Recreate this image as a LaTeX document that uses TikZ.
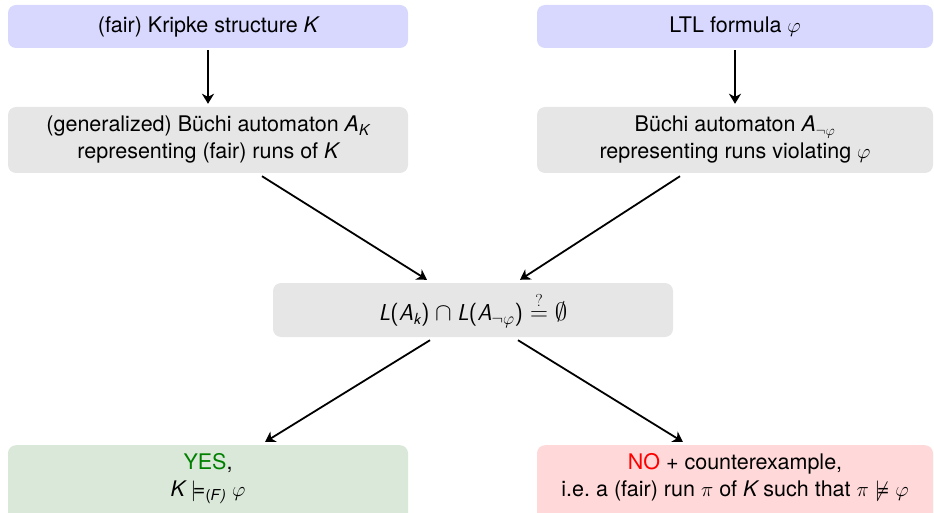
\documentclass[tikz,border=0pt]{standalone}
\usepackage{amsmath,amssymb}
\usepackage{fontspec}
\setmainfont{TeX Gyre Heros}
\usetikzlibrary{arrows.meta}
% italic letter in the current text font, usable in math and subscripts
\newcommand\iv[1]{\text{\itshape #1}}
\definecolor{inbox}{RGB}{216,216,255}
\definecolor{stepgray}{RGB}{230,230,230}
\definecolor{yesbox}{RGB}{217,232,217}
\definecolor{nobox}{RGB}{255,217,217}
\definecolor{yesgreen}{RGB}{0,128,0}
\tikzset{
  x=1pt, y=-1pt,
  box/.style={rounded corners=8pt, inner sep=0pt, align=center,
    font=\fontsize{21.5}{27}\selectfont},
  arr/.style={line width=1.8pt, -{Stealth[length=10pt,width=12pt,inset=3pt]}},
}
\begin{document}
\begin{tikzpicture}
\useasboundingbox (0,0) rectangle (934,513);
\clip (0,0) rectangle (934,513);
% inputs
\node[box, fill=inbox, minimum width=400pt, minimum height=43pt] (kripke) at (208,26.5)
  {(fair) Kripke structure $\iv{K}$};
\node[box, fill=inbox, minimum width=396pt, minimum height=43pt] (ltl) at (735,26.5)
  {LTL formula $\varphi$};
% automata
\node[box, fill=stepgray, minimum width=400pt, minimum height=66pt] (bk) at (208,140)
  {(generalized) Büchi automaton $\iv{A}_{\iv{K}}$\\ representing (fair) runs of $\iv{K}$};
\node[box, fill=stepgray, minimum width=396pt, minimum height=66pt] (bphi) at (735,140)
  {Büchi automaton $\iv{A}_{\neg\varphi}$\\ representing runs violating $\varphi$};
% emptiness check
\node[box, fill=stepgray, minimum width=400pt, minimum height=54pt,
  font=\sffamily\fontsize{23}{27}\selectfont] (check) at (473,310)
  {$\iv{L}\text{(}\iv{A}_{\iv{k}}\text{)}\cap\iv{L}\text{(}\iv{A}_{\neg\varphi}\text{)}
   \stackrel{?}{=}\emptyset$};
% results
\node[box, fill=yesbox, minimum width=400pt, text depth=40pt, inner ysep=8pt,
  anchor=north] (yes) at (208,445)
  {\textcolor{yesgreen}{YES},\\ $\iv{K}\models_{\text{(\itshape F\/)}}\varphi$};
\node[box, fill=nobox, minimum width=396pt, text depth=40pt, inner ysep=8pt,
  anchor=north] (no) at (735,445)
  {\textcolor{red}{NO} + counterexample,\\ i.e.\ a (fair) run $\pi$ of $\iv{K}$ such that $\pi\not\models\varphi$};
% connectors
\draw[arr] ([yshift=-2pt]kripke.south) -- ([yshift=3pt]bk.north);
\draw[arr] ([yshift=-2pt]ltl.south) -- ([yshift=3pt]bphi.north);
\draw[arr] ([xshift=54pt,yshift=-3pt]bk.south) -- ([xshift=-46pt,yshift=3pt]check.north);
\draw[arr] ([xshift=-55pt,yshift=-3pt]bphi.south) -- ([xshift=47pt,yshift=3pt]check.north);
\draw[arr] ([xshift=-43pt,yshift=-3pt]check.south) -- ([xshift=57pt,yshift=3pt]yes.north);
\draw[arr] ([xshift=45pt,yshift=-3pt]check.south) -- ([xshift=-52pt,yshift=3pt]no.north);
\end{tikzpicture}
\end{document}
